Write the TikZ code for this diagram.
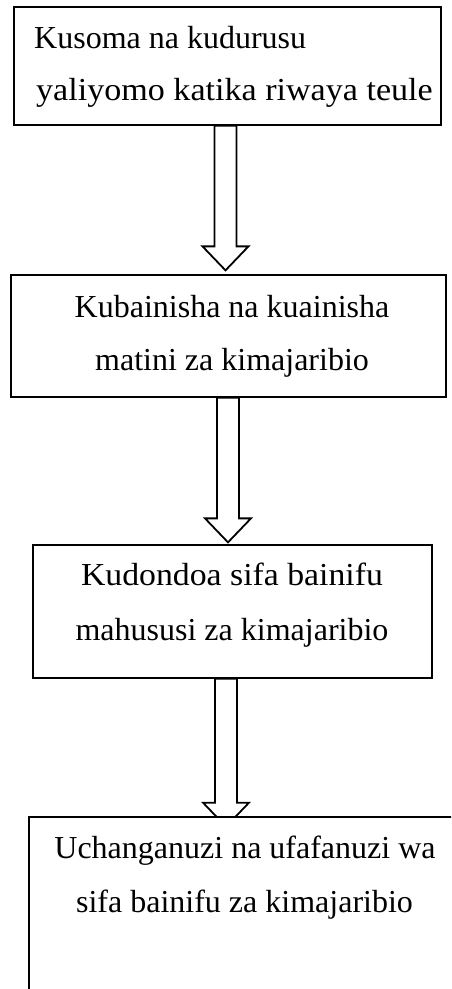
\documentclass[tikz,border=0pt]{standalone}
\usepackage{fontspec}
\usepackage{graphicx}
\setmainfont{Liberation Serif}
\usetikzlibrary{calc}
\tikzset{
  box/.style={draw=black, line width=1.3pt, fill=white, rectangle, inner sep=0pt},
  txt/.style={inner sep=0pt, font=\fontsize{32}{38}\selectfont},
  blockarrow/.style={draw=black, line width=1.8pt, fill=white, line join=miter}
}
\newcommand{\blkarrow}[2]{%
  \draw[blockarrow] ($(#1)+(-11pt,0)$) -- ($(#2)+(-11pt,24pt)$) -- ($(#2)+(-23pt,24pt)$) -- (#2)
    -- ($(#2)+(23pt,24pt)$) -- ($(#2)+(11pt,24pt)$) -- ($(#1)+(11pt,0)$) -- cycle;}
\begin{document}
\begin{tikzpicture}[x=1pt,y=1pt]
\useasboundingbox (0,0) rectangle (451,-989);
\clip (0,0) rectangle (451,-989);
\fill[white] (0,0) rectangle (451,-989);
% boxes
\node[box, minimum width=427pt, minimum height=118pt] (b1) at (227.5,-66) {};
\node[box, minimum width=435pt, minimum height=122pt] (b2) at (228.5,-336) {};
\node[box, minimum width=399pt, minimum height=133pt] (b3) at (232.5,-611.5) {};
% arrows
\coordinate (s1) at ($(b1.south)+(-2pt,0)$);
\coordinate (t1) at ($(s1|-b2.north)+(0,4pt)$);
\blkarrow{s1}{t1}
\coordinate (s2) at ($(b2.south)+(-0.5pt,0)$);
\coordinate (t2) at ($(s2|-b3.north)+(0,2pt)$);
\blkarrow{s2}{t2}
\coordinate (s3) at ($(b3.south)+(-6.5pt,0)$);
\coordinate (t3) at ($(s3)+(0,-148pt)$);
\blkarrow{s3}{t3}
\node[box, minimum width=440pt, minimum height=200pt] (b4) at (249,-917) {};
% texts
\node[txt, anchor=base west] (l11) at (34,-48) {Kusoma na kudurusu};
\node[txt, anchor=base west] (l12) at (36,-100) {\scalebox{1.065}[1]{yaliyomo katika riwaya teule}};
\node[txt, anchor=base] (l21) at (232,-317) {Kubainisha na kuainisha};
\node[txt, anchor=base] (l22) at (232,-370) {matini za kimajaribio};
\node[txt, anchor=base] (l31) at (232,-585) {\scalebox{1.055}[1]{Kudondoa sifa bainifu}};
\node[txt, anchor=base] (l32) at (232,-640) {mahususi za kimajaribio};
\node[txt, anchor=base] (l41) at (245,-858) {Uchanganuzi na ufafanuzi wa};
\node[txt, anchor=base] (l42) at (244.5,-912) {sifa bainifu za kimajaribio};
\end{tikzpicture}
\end{document}
